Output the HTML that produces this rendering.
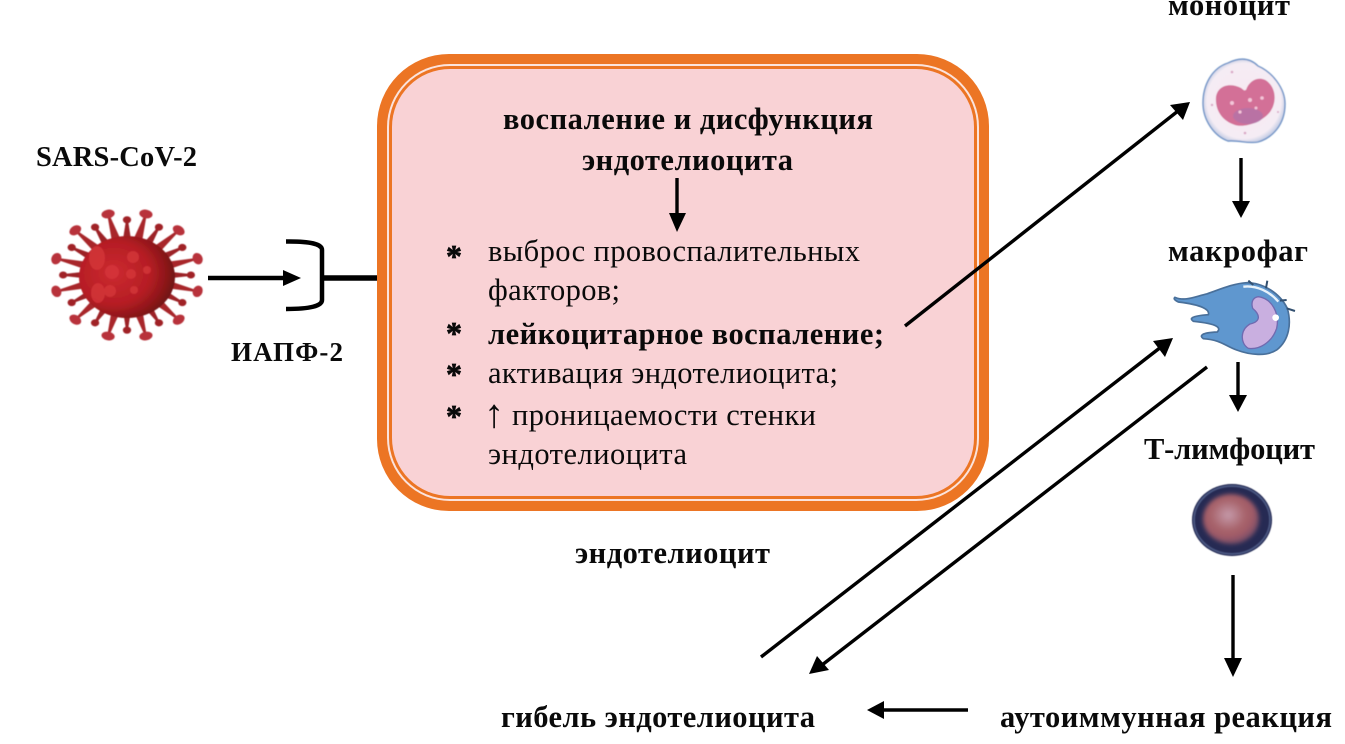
<!DOCTYPE html>
<html><head><meta charset="utf-8"><style>
html,body{margin:0;padding:0;background:#fff;width:1345px;height:744px;overflow:hidden}
svg{display:block}
text{font-family:"Liberation Serif","DejaVu Serif",serif;fill:#0a0a0a;font-size:30.5px}
.b{font-weight:bold}
.a{font-weight:bold;font-size:32px;stroke:#0a0a0a;stroke-width:.7px}
</style></head><body>
<svg width="1345" height="744" viewBox="0 0 1345 744" xmlns="http://www.w3.org/2000/svg">
<defs>
<radialGradient id="vb" cx="36%" cy="45%" r="70%"><stop offset="0" stop-color="#cc2a30"/><stop offset=".55" stop-color="#b51d24"/><stop offset=".8" stop-color="#8a1618"/><stop offset="1" stop-color="#5e0e10"/></radialGradient>
<radialGradient id="tc" cx="45%" cy="42%" r="55%"><stop offset="0" stop-color="#c59aaa"/><stop offset=".55" stop-color="#a8646c"/><stop offset=".8" stop-color="#a05a66"/><stop offset="1" stop-color="#7a4f68"/></radialGradient>
<radialGradient id="mn" cx="50%" cy="50%" r="55%"><stop offset="0" stop-color="#f7e8f2"/><stop offset=".82" stop-color="#f5ecf4"/><stop offset="1" stop-color="#a9bcdc"/></radialGradient>
<filter id="s" x="-10%" y="-10%" width="120%" height="120%"><feGaussianBlur stdDeviation=".6"/></filter>
<filter id="s2" x="-20%" y="-20%" width="140%" height="140%"><feGaussianBlur stdDeviation="2.2"/></filter>
<g id="sl"><path d="M122.5 236 L125.8 207 H128.2 L131.5 236 Z" fill="#a8262c"/><ellipse cx="127" cy="204" rx="6.5" ry="4.8" fill="#b8323a"/></g>
<g id="ss"><path d="M123 236 L125.8 215 H128.2 L131 236 Z" fill="#9c2026"/><circle cx="127" cy="213" r="4" fill="#a02228"/></g>
</defs>

<!-- virus -->
<g filter="url(#s)">
<g transform="translate(127 275) scale(1.03 .89) translate(-127 -275)">
<use href="#sl" transform="rotate(-15 127 275)"/><use href="#ss" transform="rotate(0 127 275)"/>
<use href="#sl" transform="rotate(15 127 275)"/><use href="#ss" transform="rotate(30 127 275)"/>
<use href="#sl" transform="rotate(45 127 275)"/><use href="#ss" transform="rotate(60 127 275)"/>
<use href="#sl" transform="rotate(75 127 275)"/><use href="#ss" transform="rotate(90 127 275)"/>
<use href="#sl" transform="rotate(105 127 275)"/><use href="#ss" transform="rotate(120 127 275)"/>
<use href="#sl" transform="rotate(135 127 275)"/><use href="#ss" transform="rotate(150 127 275)"/>
<use href="#sl" transform="rotate(165 127 275)"/><use href="#ss" transform="rotate(180 127 275)"/>
<use href="#sl" transform="rotate(195 127 275)"/><use href="#ss" transform="rotate(210 127 275)"/>
<use href="#sl" transform="rotate(225 127 275)"/><use href="#ss" transform="rotate(240 127 275)"/>
<use href="#sl" transform="rotate(255 127 275)"/><use href="#ss" transform="rotate(270 127 275)"/>
<use href="#sl" transform="rotate(285 127 275)"/><use href="#ss" transform="rotate(300 127 275)"/>
<use href="#sl" transform="rotate(315 127 275)"/><use href="#ss" transform="rotate(330 127 275)"/>
</g>
<ellipse cx="127" cy="277" rx="48" ry="41" fill="url(#vb)"/>
<g fill="#d8383c" opacity=".7">
<ellipse cx="97" cy="258" rx="8" ry="12"/><circle cx="112" cy="272" r="7"/><circle cx="133" cy="257" r="6"/>
<circle cx="131" cy="274" r="5"/><circle cx="110" cy="291" r="6"/><ellipse cx="98" cy="293" rx="7" ry="10"/><circle cx="147" cy="270" r="4"/><circle cx="134" cy="290" r="4"/>
</g>
</g>

<!-- receptor -->
<path d="M286 241.5 Q322 241 322 250 V300 Q322 309 286 309" fill="none" stroke="#000" stroke-width="4.5"/>
<path d="M322 278 H378" stroke="#000" stroke-width="5.5"/>
<path d="M208 278 H286" stroke="#000" stroke-width="4.5"/>
<path d="M283 270 L301 278 L283 286 Z" fill="#000"/>

<!-- endothelial box -->
<rect x="377" y="54" width="612" height="457" rx="72" fill="#ec7524"/>
<rect x="387" y="64" width="592" height="437" rx="63" fill="#fbe3dc"/>
<rect x="389" y="66" width="588" height="433" rx="61" fill="#ec7524"/>
<rect x="392" y="69" width="582" height="427" rx="58" fill="#f9d2d5"/>

<g style="filter:blur(.35px)">
<text class="b" x="503" y="129" textLength="370" lengthAdjust="spacing">воспаление и дисфункция</text>
<text class="b" x="582" y="170" textLength="211" lengthAdjust="spacing">эндотелиоцита</text>
<text class="a" x="446" y="267">*</text>
<text class="a" x="446" y="344">*</text>
<text class="a" x="446" y="385">*</text>
<text class="a" x="446" y="427">*</text>
<text x="488" y="261" textLength="372" lengthAdjust="spacing">выброс провоспалительных</text>
<text x="488" y="300" textLength="132" lengthAdjust="spacing">факторов;</text>
<text class="b" x="488" y="344" textLength="396" lengthAdjust="spacing">лейкоцитарное воспаление;</text>
<text x="488" y="383" textLength="350" lengthAdjust="spacing">активация эндотелиоцита;</text>
<text x="484" y="427" style="font-size:40px">↑</text>
<text x="512" y="425" textLength="304" lengthAdjust="spacing">проницаемости стенки</text>
<text x="488" y="464" textLength="199" lengthAdjust="spacing">эндотелиоцита</text>

<text class="b" x="36" y="166" textLength="161" lengthAdjust="spacing" style="font-size:28.5px">SARS-CoV-2</text>
<text class="b" x="231" y="361" textLength="112" lengthAdjust="spacing" style="font-size:27px">ИАПФ-2</text>
<text class="b" x="575" y="563" textLength="195" lengthAdjust="spacing">эндотелиоцит</text>
<text class="b" x="1168" y="15" textLength="122" lengthAdjust="spacing">моноцит</text>
<text class="b" x="1168" y="261" textLength="140" lengthAdjust="spacing">макрофаг</text>
<text class="b" x="1144" y="459" textLength="171" lengthAdjust="spacing">Т-лимфоцит</text>
<text class="b" x="501" y="727" textLength="314" lengthAdjust="spacing">гибель эндотелиоцита</text>
<text class="b" x="1000" y="727" textLength="332" lengthAdjust="spacing">аутоиммунная реакция</text>
</g>

<!-- arrows -->
<g stroke="#000" stroke-width="3.4" fill="none">
<path d="M677 178 V216"/>
<path d="M905 326 L1178 111"/>
<path d="M1241 158 V204"/>
<path d="M1238 362 V397"/>
<path d="M1233 575 V660"/>
<path d="M761 657 L1161 347"/>
<path d="M1207 367 L822 665"/>
<path d="M968 710 H880"/>
</g>
<g fill="#000">
<path d="M669 213 H686 L677 232 Z"/>
<path d="M1190 102 L1170 105 L1183 120 Z"/>
<path d="M1232 201 H1250 L1241 218 Z"/>
<path d="M1229 395 H1247 L1238 412 Z"/>
<path d="M1224 658 H1242 L1233 677 Z"/>
<path d="M1173 338 L1153 341 L1165 357 Z"/>
<path d="M809 674 L829 670 L817 656 Z"/>
<path d="M867 710 L884 701 V719 Z"/>
</g>

<!-- monocyte -->
<g filter="url(#s)">
<path d="M1203 103 C1203 85 1212 68 1228 63 C1240 57 1250 58 1258 66 C1272 72 1285 88 1285 104 C1285 125 1272 138 1258 142 C1248 144 1240 140 1228 141 C1214 136 1203 120 1203 103 Z" fill="url(#mn)" stroke="#6f93c6" stroke-width="1.4"/>
<path d="M1216 97 C1218 84 1232 83 1241 88 C1246 92 1244 90 1246 90 C1250 78 1262 76 1268 82 C1277 90 1276 104 1270 112 C1262 122 1245 128 1235 125 C1222 121 1215 110 1216 97 Z" fill="#d36f97"/>
<ellipse cx="1248" cy="116" rx="15" ry="8" fill="#a874ad" opacity=".6"/>
<g fill="#f3c5d8"><circle cx="1232" cy="103" r="2"/><circle cx="1240" cy="112" r="1.6"/><circle cx="1250" cy="100" r="2"/><circle cx="1262" cy="98" r="1.8"/><circle cx="1256" cy="108" r="1.5"/></g>
<g fill="#d9a6c4"><circle cx="1232" cy="72" r="1.3"/><circle cx="1212" cy="105" r="1.2"/><circle cx="1245" cy="133" r="1.3"/><circle cx="1278" cy="112" r="1"/></g>
</g>

<!-- macrophage -->
<g transform="translate(1130 240) scale(.3333)" filter="url(#s)">
<path d="M135 172 C165 185 195 170 230 162 C265 150 310 130 350 128 C400 128 450 160 472 205 C485 250 478 300 440 330 C410 350 360 345 320 330 C285 318 275 300 220 296 C208 288 212 278 262 276 C272 265 270 252 190 244 C178 236 182 228 235 224 C240 210 220 195 145 186 C133 180 130 176 135 172 Z" fill="#5f97cf" stroke="#4a6f9a" stroke-width="5"/>
<path d="M355 122 L370 135 M412 122 L408 145 M450 182 L470 180 M470 205 L495 213" stroke="#33506f" stroke-width="6" fill="none"/>
<path d="M340 140 C380 135 420 155 445 185" stroke="#e8f2fa" stroke-width="7" fill="none"/>
<path d="M385 170 C425 175 450 220 440 265 C425 310 385 330 355 325 C330 310 330 270 360 252 C392 245 392 225 368 205 C362 185 370 172 385 170 Z" fill="#c9afe0" stroke="#6f6ab0" stroke-width="4"/>
<circle cx="437" cy="233" r="10" fill="#fff"/>
</g>

<!-- T lymphocyte -->
<ellipse cx="1232" cy="520" rx="40" ry="36" fill="#252c52" filter="url(#s)"/>
<ellipse cx="1232" cy="520" rx="38" ry="34" fill="none" stroke="#4a5680" stroke-width="2" filter="url(#s)"/>
<ellipse cx="1231" cy="519" rx="28" ry="25" fill="url(#tc)" filter="url(#s2)"/>
</svg>
</body></html>
